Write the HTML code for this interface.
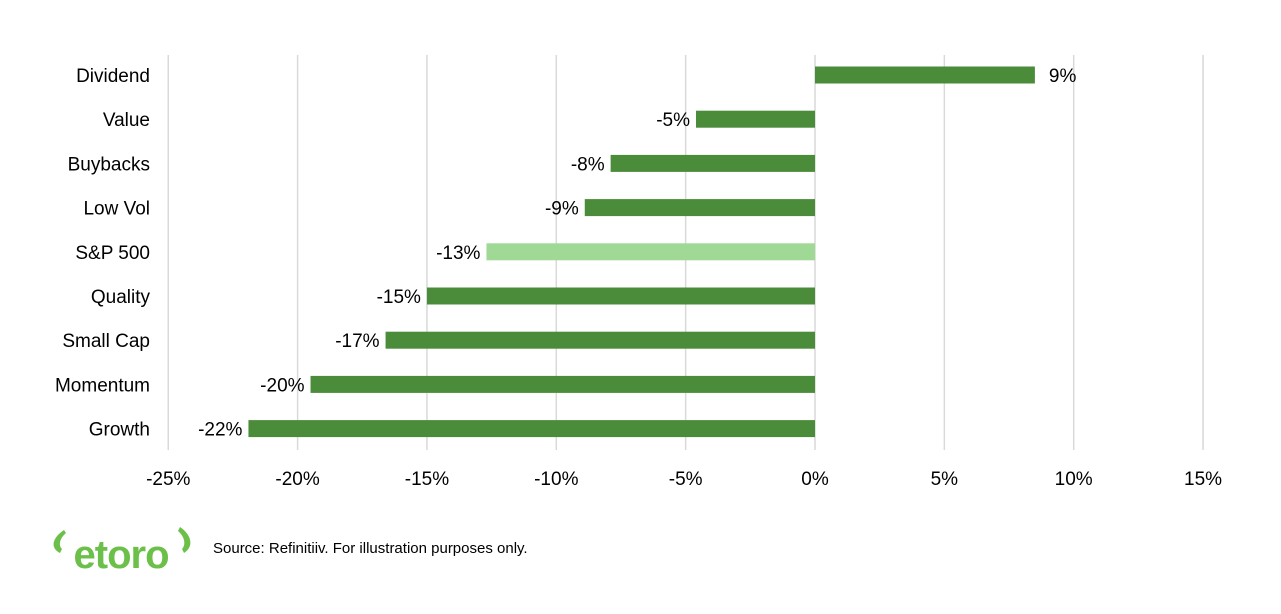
<!DOCTYPE html>
<html><head><meta charset="utf-8"><style>
body{margin:0;background:#fff;width:1281px;height:609px;overflow:hidden;font-family:"Liberation Sans",sans-serif}
</style></head><body>
<svg id="chart" width="1281" height="609" viewBox="0 0 1281 609" xmlns="http://www.w3.org/2000/svg" font-family="Liberation Sans, sans-serif">
<g id="grid"></g>
<g id="bars"></g>
<g id="labels"></g>
<g>
<path d="M64 530 C52 538 50 548 60 553 L62 549 C58 545 60 538 66 533 Z" fill="#6cc04a"/>
<path d="M180 527 C192 535 194 547 184 553 L182 549 C186 545 185 537 178 531 Z" fill="#6cc04a"/>
<text x="121" y="568" text-anchor="middle" font-size="40" font-weight="bold" fill="#6cc04a" letter-spacing="-1">etoro</text>
</g>
<text x="213" y="553" font-size="15" fill="#000">Source: Refinitiiv. For illustration purposes only.</text>
</svg>
<script>
const categories=["Dividend","Value","Buybacks","Low Vol","S&P 500","Quality","Small Cap","Momentum","Growth"];
const values=[8.5,-4.6,-7.9,-8.9,-12.7,-15.0,-16.6,-19.5,-21.9];
const valueLabels=["9%","-5%","-8%","-9%","-13%","-15%","-17%","-20%","-22%"];
const ticks=[-25,-20,-15,-10,-5,0,5,10,15];
const tickLabels=["-25%","-20%","-15%","-10%","-5%","0%","5%","10%","15%"];
const NS="http://www.w3.org/2000/svg";
const x=v=>815+(v)*25.87;
const y=i=>75+i*44.2;
function mk(tag,attrs,parent){const e=document.createElementNS(NS,tag);for(const k in attrs)e.setAttribute(k,attrs[k]);parent.appendChild(e);return e;}
const grid=document.getElementById('grid'),bars=document.getElementById('bars'),labels=document.getElementById('labels');
ticks.forEach((t,i)=>{
 const l=mk('line',{x1:x(t),x2:x(t),y1:55,y2:450,stroke:'#d9d9d9','stroke-width':1.5},grid);
 
 
 const tx=mk('text',{x:x(t),y:485,'text-anchor':'middle','font-size':19,fill:'#000'},labels);
 tx.textContent=tickLabels[i];
 
 
});
categories.forEach((c,i)=>{
 const v=values[i];
 const r=mk('rect',{x:Math.min(x(0),x(v)),y:y(i)-8.5,width:Math.abs(x(v)-x(0)),height:17,fill:c==="S&P 500"?'#a0d895':'#4a8c3a'},bars);
 
 
 const cl=mk('text',{x:150,y:y(i)+7,'text-anchor':'end','font-size':19,fill:'#000'},labels);
 cl.textContent=c;
 
 
 const vl=mk('text',{x:v<0?x(v)-6:x(v)+14,y:y(i)+7,'text-anchor':v<0?'end':'start','font-size':19,fill:'#000'},labels);
 vl.textContent=valueLabels[i];
 
 
});
</script>
</body></html>
